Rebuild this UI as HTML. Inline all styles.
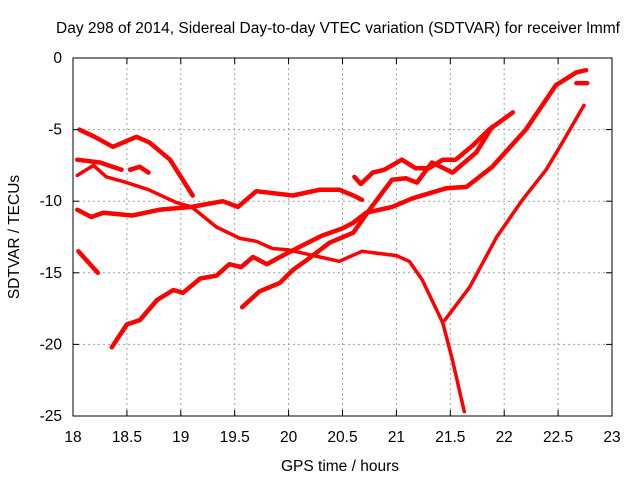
<!DOCTYPE html>
<html><head><meta charset="utf-8"><style>
body{margin:0;background:#fff;}
svg text{font-family:"Liberation Sans",sans-serif;font-size:15.5px;fill:#000;}
</style></head><body>
<svg width="640" height="480" xmlns="http://www.w3.org/2000/svg">
<rect width="640" height="480" fill="#fff"/>
<g id="grid"></g>
<g id="series"></g>
<rect x="73" y="58" width="539" height="358" fill="none" stroke="#000" stroke-width="1"/>
<g id="ticks"></g>
<text x="338" y="33" text-anchor="middle">Day 298 of 2014, Sidereal Day-to-day VTEC variation (SDTVAR) for receiver lmmf</text>
<text x="340" y="471" text-anchor="middle">GPS time / hours</text>
<text transform="translate(19,237) rotate(-90)" text-anchor="middle">SDTVAR / TECUs</text>
</svg>
<script>
const xTicks=[18,18.5,19,19.5,20,20.5,21,21.5,22,22.5,23];
const yTicks=[0,-5,-10,-15,-20,-25];
const sA=[[18.06,-5.0],[18.2,-5.5],[18.37,-6.2],[18.59,-5.5],[18.71,-5.9],[18.9,-7.1],[19.11,-9.6]];
const sB=[[18.04,-7.1],[18.25,-7.3],[18.45,-7.8]];
const sK=[[18.53,-7.8],[18.62,-7.6],[18.7,-8.0]];
const sC=[[18.04,-8.2],[18.19,-7.5],[18.31,-8.3],[18.5,-8.7],[18.7,-9.2],[18.96,-10.1],[19.1,-10.4],[19.33,-11.8],[19.55,-12.6],[19.7,-12.8],[19.85,-13.3],[20.0,-13.4],[20.29,-13.9],[20.47,-14.2],[20.68,-13.5],[21.0,-13.8],[21.12,-14.2],[21.24,-15.5],[21.43,-18.5],[21.52,-21.1],[21.63,-24.7]];
const sD=[[18.04,-10.6],[18.17,-11.1],[18.28,-10.8],[18.55,-11.0],[18.8,-10.6],[19.1,-10.4],[19.39,-10.0],[19.53,-10.4],[19.7,-9.3],[20.04,-9.6],[20.29,-9.2],[20.47,-9.2],[20.6,-9.6],[20.68,-9.9]];
const sE=[[20.61,-8.3],[20.67,-8.8],[20.78,-8.0],[20.89,-7.8],[21.05,-7.1],[21.18,-7.7],[21.3,-7.7],[21.43,-7.1],[21.55,-7.1],[21.71,-6.1],[21.86,-5.0],[22.08,-3.8]];
const sF=[[18.36,-20.2],[18.5,-18.6],[18.62,-18.3],[18.78,-16.9],[18.93,-16.2],[19.02,-16.4],[19.18,-15.4],[19.33,-15.2],[19.45,-14.4],[19.56,-14.6],[19.67,-13.9],[19.8,-14.4],[19.92,-13.9],[20.1,-13.2],[20.31,-12.4],[20.5,-11.9],[20.6,-11.5],[20.72,-10.8],[20.96,-10.4],[21.15,-9.8],[21.46,-9.1],[21.65,-9.0],[21.89,-7.6],[22.2,-5.0],[22.48,-1.9],[22.67,-1.0],[22.76,-0.85]];
const sG=[[19.57,-17.4],[19.73,-16.3],[19.92,-15.7],[20.04,-14.8],[20.17,-14.1],[20.38,-12.9],[20.6,-12.2],[20.75,-10.6],[20.96,-8.5],[21.09,-8.4],[21.19,-8.7],[21.33,-7.3],[21.52,-8.0],[21.74,-6.6],[21.89,-4.8]];
const sH=[[18.05,-13.5],[18.23,-15.0]];
const sI=[[21.45,-18.3],[21.68,-16.0],[21.93,-12.5],[22.17,-9.9],[22.39,-7.8],[22.54,-5.9],[22.74,-3.3]];
const sJ=[[22.67,-1.75],[22.77,-1.75]];
const allSeries=[sA,sB,sK,sC,sD,sE,sF,sG,sH,sI,sJ];
const NS="http://www.w3.org/2000/svg";
function xs(h){return 73+(h-18)*107.8;}
function ys(v){return 58-v*14.32;}
const grid=document.getElementById('grid'),ticks=document.getElementById('ticks'),ser=document.getElementById('series');
function mk(tag,attrs,parent){const e=document.createElementNS(NS,tag);for(const k in attrs)e.setAttribute(k,attrs[k]);parent.appendChild(e);return e;}
xTicks.forEach(t=>{
  const x=xs(t);
  if(t>18&&t<23){const g=mk('line',{x1:x,x2:x,y1:58,y2:416,stroke:'#a0a0a0','stroke-dasharray':'2,3'},grid);
  
  }
  const lb=mk('text',{x:x,y:442,'text-anchor':'middle'},ticks);lb.textContent=String(t);
  
  
  mk('line',{x1:x,x2:x,y1:416,y2:410,stroke:'#000'},ticks);
  mk('line',{x1:x,x2:x,y1:58,y2:64,stroke:'#000'},ticks);
});
yTicks.forEach(t=>{
  const y=ys(t);
  if(t<0&&t>-25){const g=mk('line',{x1:73,x2:612,y1:y,y2:y,stroke:'#a0a0a0','stroke-dasharray':'2,3'},grid);
  
  }
  const lb=mk('text',{x:62,y:y+5,'text-anchor':'end'},ticks);lb.textContent=String(t);
  
  
  mk('line',{x1:73,x2:79,y1:y,y2:y,stroke:'#000'},ticks);
  mk('line',{x1:612,x2:606,y1:y,y2:y,stroke:'#000'},ticks);
});
allSeries.forEach((s,i)=>{
  const pts=s.map(p=>xs(p[0]).toFixed(1)+','+ys(p[1]).toFixed(1)).join(' ');
  const pl=mk('polyline',{points:pts,fill:'none',stroke:'#ff0000','stroke-width':(i===3||i===9)?3.5:4.5,'stroke-linejoin':'round','stroke-linecap':'round'},ser);
  
  
});
</script>
</body></html>
